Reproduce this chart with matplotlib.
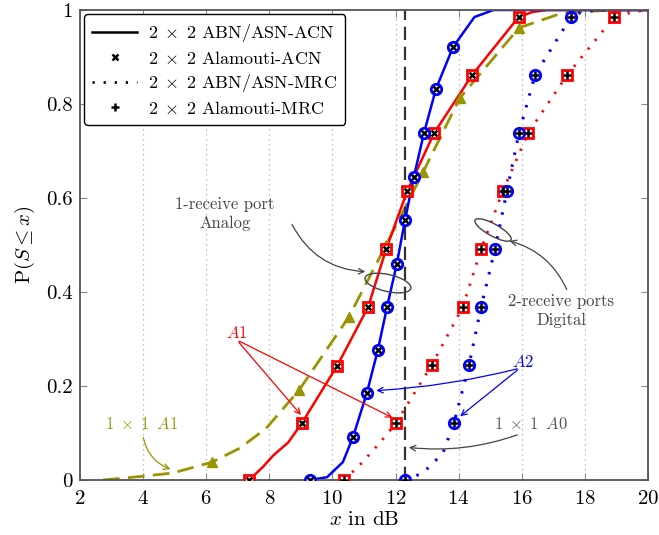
import matplotlib
matplotlib.use("Agg")
import matplotlib.pyplot as plt
from matplotlib.patches import Ellipse
from matplotlib.lines import Line2D
from matplotlib.transforms import ScaledTranslation

plt.rcParams["font.family"] = ["cmr10", "DejaVu Serif"]
plt.rcParams["mathtext.fontset"] = "cm"
plt.rcParams["axes.formatter.use_mathtext"] = True

# 2x2 A2, ABN/ASN-ACN (solid blue)
a2_acn_x = [9.29, 9.83, 10.33, 10.65, 11.09, 11.44, 11.73, 12.04, 12.30, 12.58, 12.9, 13.28, 13.82, 14.5, 15.1, 20]
a2_acn_y = [0, 0.006, 0.038, 0.091, 0.185, 0.277, 0.368, 0.46, 0.553, 0.645, 0.738, 0.832, 0.921, 0.985, 1.0, 1.0]
a2_ala_acn_x = [9.29, 10.65, 11.09, 11.44, 11.73, 12.04, 12.30, 12.58, 12.9, 13.28, 13.82]
a2_ala_acn_y = [0, 0.091, 0.185, 0.277, 0.368, 0.46, 0.553, 0.645, 0.738, 0.832, 0.921]

# 2x2 A1, ABN/ASN-ACN (solid red)
a1_acn_x = [7.36, 7.8, 8.12, 8.6, 9.03, 10.15, 11.13, 11.70, 12.37, 13.22, 14.43, 15.9, 16.35, 16.8, 20]
a1_acn_y = [0, 0.028, 0.052, 0.08, 0.121, 0.243, 0.368, 0.491, 0.615, 0.738, 0.862, 0.985, 0.996, 1.0, 1.0]
a1_ala_acn_x = [7.36, 9.03, 10.15, 11.13, 11.70, 12.37, 13.22, 14.43, 15.9]
a1_ala_acn_y = [0, 0.121, 0.243, 0.368, 0.491, 0.615, 0.738, 0.862, 0.985]

# 2x2 A2, ABN/ASN-MRC (dotted blue)
a2_mrc_x = [12.3, 12.87, 13.5, 13.85, 14.33, 14.71, 15.15, 15.53, 15.91, 16.42, 17.56, 17.9, 18.4, 20]
a2_mrc_y = [0, 0.015, 0.057, 0.121, 0.245, 0.368, 0.491, 0.615, 0.738, 0.862, 0.985, 0.996, 1.0, 1.0]
a2_ala_mrc_x = [12.3, 13.85, 14.33, 14.71, 15.15, 15.53, 15.91, 16.42, 17.56]
a2_ala_mrc_y = [0, 0.121, 0.245, 0.368, 0.491, 0.615, 0.738, 0.862, 0.985]

# 2x2 A1, ABN/ASN-MRC (dotted red)
a1_mrc_x = [10.37, 10.87, 11.5, 12.01, 13.15, 14.13, 14.71, 15.4, 16.2, 17.44, 18.93, 19.6, 20]
a1_mrc_y = [0, 0.032, 0.079, 0.121, 0.245, 0.368, 0.491, 0.615, 0.738, 0.862, 0.985, 0.997, 1.0]
a1_ala_mrc_x = [10.37, 12.01, 13.15, 14.13, 14.71, 15.4, 16.2, 17.44, 18.93]
a1_ala_mrc_y = [0, 0.121, 0.245, 0.368, 0.491, 0.615, 0.738, 0.862, 0.985]

# 1x1 A1 (dashed olive)
siso_a1_x = [2.73, 4.0, 4.95, 6.18, 7.07, 7.9, 8.94, 10.52, 11.7, 12.87, 14.04, 15.91, 17.3, 18.9, 20]
siso_a1_y = [0, 0.008, 0.015, 0.038, 0.068, 0.11, 0.191, 0.347, 0.5, 0.655, 0.813, 0.962, 0.994, 1.0, 1.0]
siso_a1_mk_x = [6.18, 8.94, 10.52, 11.7, 12.87, 14.04, 15.91]
siso_a1_mk_y = [0.038, 0.191, 0.347, 0.5, 0.655, 0.813, 0.962]

# 1x1 A0 (constant)
siso_a0 = 12.3

x_ticks = [2, 4, 6, 8, 10, 12, 14, 16, 18, 20]
y_ticks = [0, 0.2, 0.4, 0.6, 0.8, 1]
y_tick_labels = ["0", "0.2", "0.4", "0.6", "0.8", "1"]

olive = "#9a9400"
gray = "#444444"

fig = plt.figure(figsize=(6.59, 5.35), dpi=100)
ax = fig.add_axes([0.1214, 0.1028, 0.8619, 0.8785])

for xv in x_ticks[1:-1]:
    ax.axvline(xv, color="#aaaaaa", lw=0.9, ls=(0, (1, 3)), zorder=0)

ax.plot(siso_a1_x, siso_a1_y, color=olive, lw=2, ls=(0, (6, 3)), zorder=2)
ax.plot(siso_a1_mk_x, siso_a1_mk_y, ls="none", marker="^", ms=6.5, color=olive, zorder=3)
ax.axvline(siso_a0, color="#333333", lw=1.6, ls=(0, (6, 3)), zorder=2)

ax.plot(a1_acn_x, a1_acn_y, color="red", lw=1.8, zorder=2)
ax.plot(a2_acn_x, a2_acn_y, color="blue", lw=1.8, zorder=2)
ax.plot(a1_mrc_x, a1_mrc_y, color="red", lw=2, ls=(0, (0.8, 3.2)), zorder=2)
ax.plot(a2_mrc_x, a2_mrc_y, color="blue", lw=2.2, ls=(0, (0.8, 3.2)), zorder=2)

ax.plot(a1_ala_acn_x, a1_ala_acn_y, ls="none", marker="s", ms=7, mfc="white", mec="red", mew=2, zorder=4)
ax.plot(a1_ala_acn_x, a1_ala_acn_y, ls="none", marker="x", ms=4, mec="black", mew=1.8, zorder=5)
ax.plot(a2_ala_acn_x, a2_ala_acn_y, ls="none", marker="o", ms=7.5, mfc="white", mec="blue", mew=2, zorder=4)
ax.plot(a2_ala_acn_x, a2_ala_acn_y, ls="none", marker="x", ms=4, mec="black", mew=1.8, zorder=5)
ax.plot(a1_ala_mrc_x, a1_ala_mrc_y, ls="none", marker="s", ms=7, mfc="white", mec="red", mew=2, zorder=4)
ax.plot(a1_ala_mrc_x, a1_ala_mrc_y, ls="none", marker="+", ms=5.5, mec="black", mew=1.8, zorder=5)
ax.plot(a2_ala_mrc_x, a2_ala_mrc_y, ls="none", marker="o", ms=7.5, mfc="white", mec="blue", mew=2, zorder=4)
ax.plot(a2_ala_mrc_x, a2_ala_mrc_y, ls="none", marker="+", ms=5.5, mec="black", mew=1.8, zorder=5)

ax.set_xlim(2, 20)
ax.set_ylim(0, 1)
ax.set_xticks(x_ticks)
ax.set_yticks(y_ticks)
ax.set_yticklabels(y_tick_labels)
ax.tick_params(direction="in", length=5, color="#888888", labelsize=15, top=True, right=True)
ax.tick_params(axis="x", pad=7)
ax.tick_params(axis="y", pad=5)
for s in ax.spines.values():
    s.set_color("#555555")
    s.set_linewidth(1.3)
ax.set_xlabel(r"$x$ in dB", fontsize=15, labelpad=2)
ax.set_ylabel(r"$\mathrm{P}(S \leq x)$", fontsize=15, labelpad=7)

# ellipses drawn in inches around a data point
def ring(xc, yc, w, h, ang):
    tr = fig.dpi_scale_trans + ScaledTranslation(xc, yc, ax.transData)
    ax.add_patch(Ellipse((0, 0), w, h, angle=ang, transform=tr, fill=False,
                         ec=gray, lw=1, zorder=6))

ring(11.76, 0.419, 0.47, 0.17, -13)
ring(15.09, 0.532, 0.41, 0.12, -29)

ann = dict(fontsize=12, ha="center", va="center")
ax.text(6.6, 0.566, "1-receive port\nAnalog", color=gray, linespacing=1.25, **ann)
ax.annotate("", xy=(11.13, 0.443), xytext=(8.68, 0.549),
            arrowprops=dict(arrowstyle="->", color=gray, lw=0.9,
                            connectionstyle="arc3,rad=0.3"))
ax.text(17.25, 0.36, "2-receive ports\nDigital", color=gray, linespacing=1.25, **ann)
ax.annotate("", xy=(15.53, 0.51), xytext=(17.46, 0.40),
            arrowprops=dict(arrowstyle="->", color=gray, lw=0.9,
                            connectionstyle="arc3,rad=0.25"))

ax.text(6.97, 0.313, r"$A1$", color="red", fontsize=12, ha="center", va="center")
for tx, ty in [(9.06, 0.134), (11.98, 0.13)]:
    ax.annotate("", xy=(tx, ty), xytext=(6.97, 0.298),
                arrowprops=dict(arrowstyle="->", color="red", lw=0.9))

ax.text(16.05, 0.252, r"$A2$", color="blue", fontsize=12, ha="center", va="center")
ax.annotate("", xy=(11.3, 0.19), xytext=(15.94, 0.238),
            arrowprops=dict(arrowstyle="->", color="blue", lw=0.9,
                            connectionstyle="arc3,rad=-0.05"))
ax.annotate("", xy=(13.98, 0.132), xytext=(15.94, 0.238),
            arrowprops=dict(arrowstyle="->", color="blue", lw=0.9))

ax.text(16.3, 0.12, r"$1\;\times\;1\;\;A0$", color="#555555", fontsize=12, ha="center", va="center")
ax.annotate("", xy=(12.33, 0.07), xytext=(15.94, 0.098),
            arrowprops=dict(arrowstyle="->", color=gray, lw=0.9,
                            connectionstyle="arc3,rad=-0.12"))

ax.text(3.96, 0.12, r"$1\;\times\;1\;\;A1$", color=olive, fontsize=12, ha="center", va="center")
ax.annotate("", xy=(4.95, 0.021), xytext=(3.99, 0.096),
            arrowprops=dict(arrowstyle="->", color=olive, lw=0.9,
                            connectionstyle="arc3,rad=0.3"))

handles = [
    Line2D([], [], color="black", lw=1.8),
    Line2D([], [], color="black", ls="none", marker="x", ms=4, mew=1.8),
    Line2D([], [], color="black", lw=2, ls=(0, (0.8, 3.2))),
    Line2D([], [], color="black", ls="none", marker="+", ms=5.5, mew=1.8),
]
labels = [r"$2\;\times\;2$ ABN/ASN-ACN", r"$2\;\times\;2$ Alamouti-ACN",
          r"$2\;\times\;2$ ABN/ASN-MRC", r"$2\;\times\;2$ Alamouti-MRC"]
leg = ax.legend(handles, labels, loc="upper left", fontsize=13, fancybox=True,
                framealpha=1, edgecolor="black", handlelength=2.5, borderpad=0.45,
                labelspacing=0.3, handletextpad=0.6, borderaxespad=0,
                bbox_to_anchor=(0.007, 0.991))
leg.get_frame().set_linewidth(1)
leg.set_zorder(10)

fig.savefig("out.png", dpi=100)
